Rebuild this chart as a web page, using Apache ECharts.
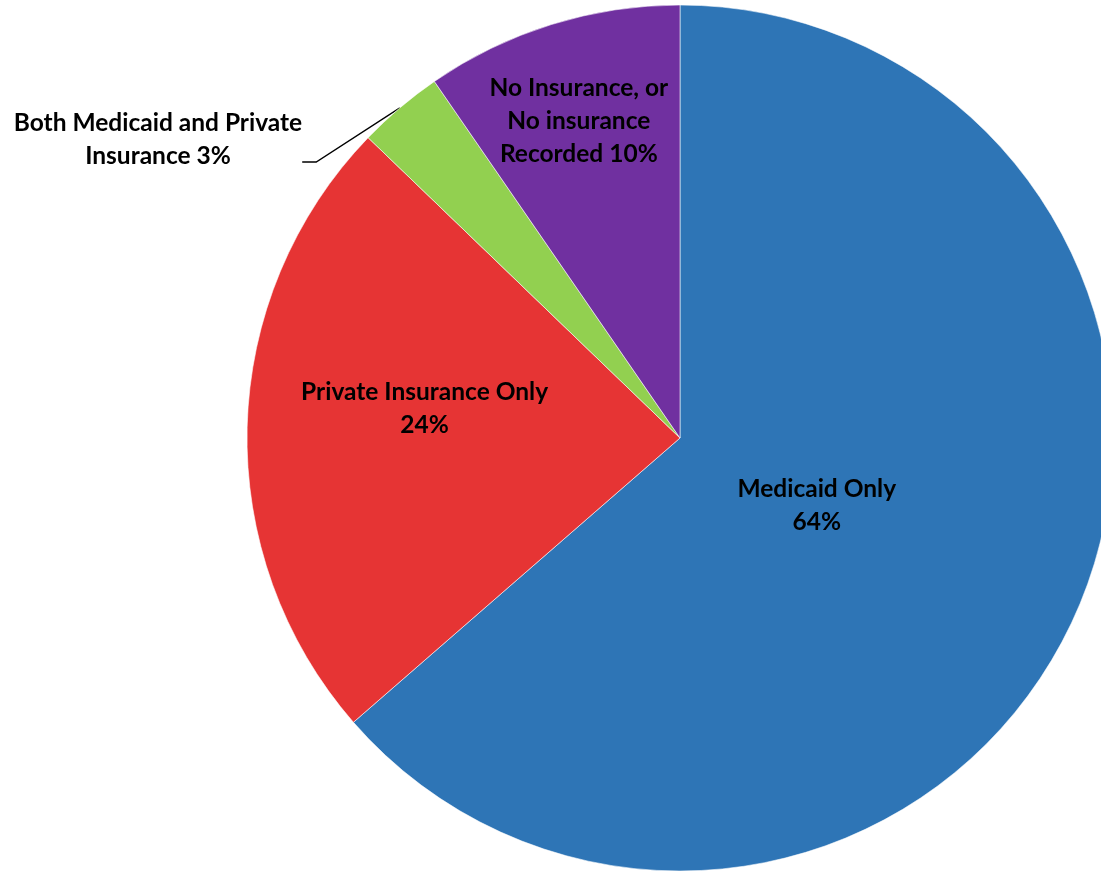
<!DOCTYPE html>
<html>
<head>
<meta charset="utf-8">
<script src="https://cdn.jsdelivr.net/npm/echarts@6/dist/echarts.min.js"></script>
<style>html,body{margin:0;padding:0;background:#fff}#chart{width:1101px;height:873px}</style>
</head>
<body>
<div id="chart"></div>
<script>
const categories = ['Medicaid Only', 'Private Insurance Only', 'Both Medicaid and Private Insurance', 'No Insurance, or No insurance Recorded'];
const labelLines = ['Medicaid Only\n', 'Private Insurance Only\n', 'Both Medicaid and Private\nInsurance ', 'No Insurance, or\nNo insurance\nRecorded '];
const values = [63.6, 23.6, 3.2, 9.6];
const colors = ['#2E75B6', '#E63434', '#92D050', '#7030A0'];
const labelOffsets = [[-63, -23], [-36, -24], [0, 0], [-36, -107]];

const font = { color: '#000', fontFamily: 'Lato', fontWeight: 'bold', fontSize: 24.5, lineHeight: 33 };

const chart = echarts.init(document.getElementById('chart'));
const data = categories.map((c, i) => ({
  name: c,
  value: values[i],
  itemStyle: { color: colors[i] },
  label: i === 2
    ? { position: 'outside', align: 'center' }
    : { position: 'inside', offset: labelOffsets[i] },
  labelLine: { show: i === 2, length: 20, length2: 14, lineStyle: { color: '#000', width: 1.3 } }
}));
chart.setOption({
  animation: false,
  series: [{
    type: 'pie',
    center: [680, 438],
    radius: 433,
    startAngle: 90,
    clockwise: true,
    avoidLabelOverlap: false,
    itemStyle: { borderColor: 'rgba(255,255,255,0.7)', borderWidth: 0.8 },
    label: Object.assign({
      show: true,
      align: 'center',
      rich: {
        t: Object.assign({ align: 'center' }, font),
        s: { fontSize: 10, lineHeight: 44 }
      },
      formatter: p => {
        const txt = labelLines[p.dataIndex] + Math.round(p.percent) + '%';
        if (p.dataIndex === 2) {
          return txt.split('\n').map(l => '{t|' + l + '}').join('\n') + '\n{s| }';
        }
        return txt;
      }
    }, font),
    labelLayout: function (params) {
      if (params.dataIndex === 2) {
        return { x: 158, y: 162, align: 'center', verticalAlign: 'middle' };
      }
      return {};
    },
    data: data
  }]
});
</script>
</body>
</html>
